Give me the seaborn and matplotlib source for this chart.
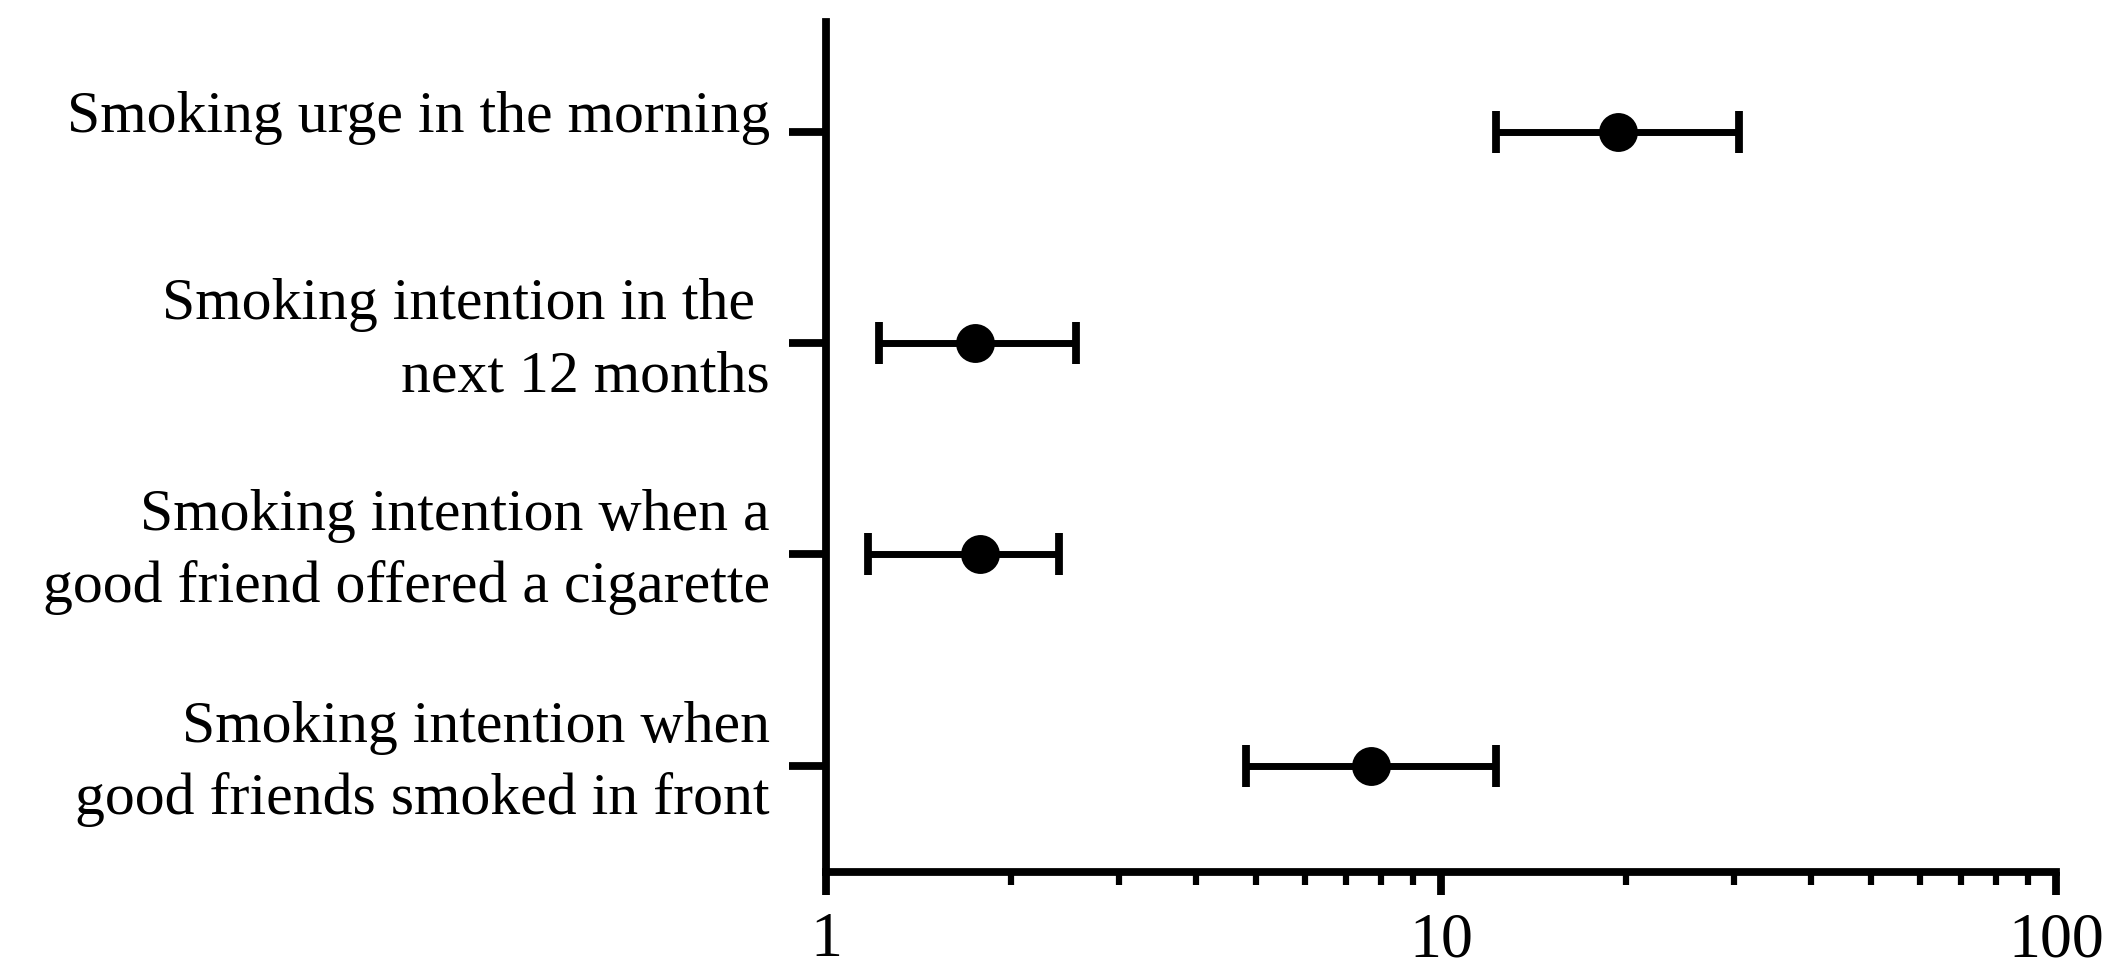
import matplotlib
matplotlib.use("Agg")
import matplotlib.pyplot as plt
import matplotlib.ticker as mticker
import matplotlib.transforms as mtransforms
import seaborn as sns
import pandas as pd
import numpy as np

categories = [
    "Smoking urge in the morning",
    "Smoking intention in the \nnext 12 months",
    "Smoking intention when a\ngood friend offered a cigarette",
    "Smoking intention when\ngood friends smoked in front",
]
odds_ratio = [19.4, 1.75, 1.78, 7.70]
ci_low = [12.3, 1.22, 1.17, 4.82]
ci_high = [30.5, 2.55, 2.39, 12.3]
x_ticks = [1, 10, 100]
x_tick_labels = ["1", "10", "100"]

sns.set_theme(style="white")
plt.rcParams["font.family"] = ["Liberation Serif", "DejaVu Serif"]

df = pd.DataFrame({"label": categories, "or": odds_ratio, "lo": ci_low, "hi": ci_high})
df["pos"] = np.arange(len(df))

fig = plt.figure(figsize=(21.26, 9.74), dpi=100)
ax = fig.add_axes([0.3885, 0.1045, 0.9671 - 0.3885, 0.9774 - 0.1045])

lw = 5.6
ax.errorbar(df["or"], df["pos"],
            xerr=[df["or"] - df["lo"], df["hi"] - df["or"]],
            fmt="none", ecolor="black", elinewidth=5.0, capsize=15,
            capthick=5.6, zorder=2)
sns.scatterplot(data=df, x="or", y="pos", ax=ax, color="black", s=28**2,
                edgecolor="black", linewidth=0, zorder=3, legend=False)

ax.set_xscale("log")
ax.set_xlim(1, 100)
ax.set_ylim(len(df) - 0.495, -0.52)
ax.set_xticks(x_ticks)
ax.set_xticklabels(x_tick_labels)
ax.xaxis.set_minor_locator(mticker.LogLocator(base=10, subs=np.arange(2, 10)))
ax.xaxis.set_minor_formatter(mticker.NullFormatter())
ax.set_yticks(df["pos"])
ax.set_yticklabels([""] * len(df))
for t in ax.get_xticklabels():
    t.set_fontsize(46)
ax.set_xlabel("")
ax.set_ylabel("")

# category labels: right-aligned, baselines placed relative to each tick
base = mtransforms.blended_transform_factory(ax.transAxes, ax.transData)
for pos, label in zip(df["pos"], df["label"]):
    lines = label.split("\n")
    offsets = [0] if len(lines) == 1 else [24, -48]
    for line, dy in zip(lines, offsets):
        tr = mtransforms.offset_copy(base, fig=fig, x=-56, y=dy, units="dots")
        ax.text(0, pos, line, transform=tr, ha="right", va="baseline",
                fontsize=43, color="black")

for s in ["top", "right"]:
    ax.spines[s].set_visible(False)
for s in ["left", "bottom"]:
    ax.spines[s].set_linewidth(lw)
    ax.spines[s].set_color("black")

ax.tick_params(axis="x", which="major", length=16.5, width=lw, direction="out",
               pad=12.5, colors="black", bottom=True)
ax.tick_params(axis="x", which="minor", length=9.5, width=lw * 0.8, direction="out",
               bottom=True, colors="black")
ax.tick_params(axis="y", which="major", length=26.5, width=lw, direction="out",
               pad=14, colors="black", left=True)

fig.savefig("out.png", dpi=100, facecolor="white")
